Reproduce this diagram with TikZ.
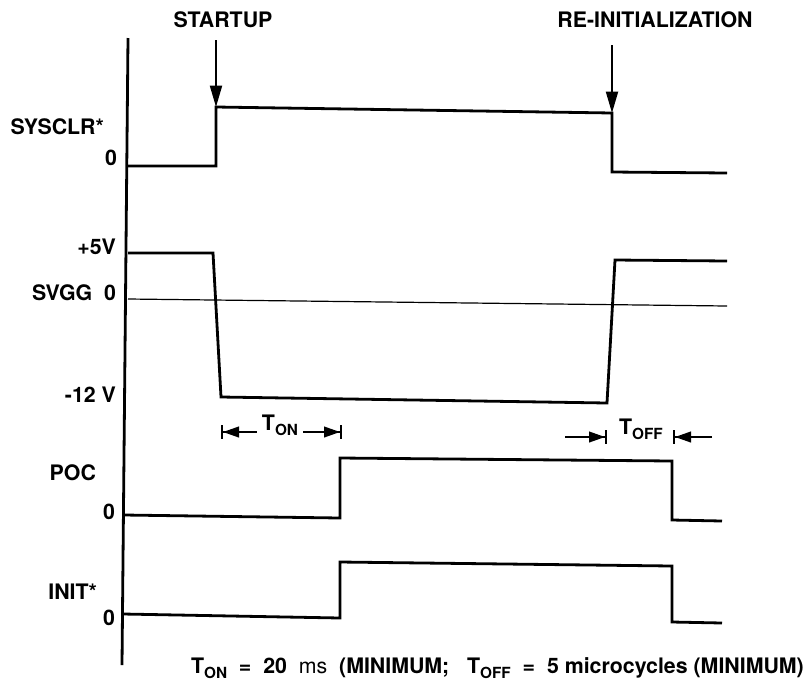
\documentclass[tikz,border=0pt]{standalone}
\usepackage{fontspec}
\setsansfont{TeX Gyre Heros}
\usetikzlibrary{arrows.meta}
\newcommand{\Tsub}[1]{T\raisebox{-0.45ex}{\fontsize{11.5}{12}\selectfont #1}}

\begin{document}
\begin{tikzpicture}[
  x=0.75pt, y=-0.75pt,
  line width=1.6pt,
  every node/.style={font=\sffamily\bfseries\fontsize{16}{18}\selectfont, inner sep=0pt},
  sig/.style={line width=2.1pt, line join=miter},
  ref/.style={line width=0.9pt},
  mark arrow/.style={line width=1.4pt, -{Triangle[length=16pt,width=9pt]}},
  dimline/.style={line width=1.5pt, -{Triangle[length=12pt,width=8pt] Bar[width=10pt]}}
]
\useasboundingbox (0,0) rectangle (803,683);

% time axis
\draw[sig] (128,38) -- (122,665);

% events
\node (startup) at (223,20) {STARTUP};
\node (reinit) at (655,20) {RE-INITIALIZATION};
\coordinate (startup top) at (216,40);
\coordinate (startup tip) at (216,107);
\coordinate (reinit top) at (612,45);
\coordinate (reinit tip) at (612,113);
\draw[mark arrow] (startup top) -- (startup tip);
\draw[mark arrow] (reinit top) -- (reinit tip);

% SYSCLR*
\node[anchor=east] (sysclr) at (105,127) {SYSCLR*};
\node[anchor=east] (sysclr0) at (118,158) {0};
\draw[sig] (128,166) -- (216,166) -- (startup tip) -- (reinit tip)
  -- (612,172) -- (727,173);

% SVGG
\node[anchor=east] (plus5) at (117,247) {+5V};
\node[anchor=east] (svgg) at (117,293) {SVGG\ \ 0};
\node[anchor=east] (minus12) at (117,395) {-12 V};
\draw[sig] (128,253) -- (213,253) -- (221,397) -- (607,403)
  -- (615,260) -- (727,261);
\draw[ref] (128,299) -- (727,306);

% T_ON / T_OFF
\node[anchor=base] (ton) at (280,430) {\Tsub{ON}};
\coordinate (ton l) at (221,432);
\coordinate (ton r) at (342,432);
\draw[dimline, shorten <=3pt] (ton.west |- ton l) -- (ton l);
\draw[dimline, shorten <=3pt] (ton.east |- ton r) -- (ton r);

\node[anchor=base] (toff) at (641,434) {\Tsub{OFF}};
\coordinate (toff a) at (565,437);
\coordinate (toff l) at (607,437);
\coordinate (toff r) at (673,437);
\coordinate (toff b) at (712,437);
\draw[dimline] (toff a) -- (toff l);
\draw[dimline] (toff b) -- (toff r);

% POC
\node[anchor=east] (poc) at (97,473) {POC};
\node[anchor=east] (poc0) at (116,512) {0};
\draw[sig] (124,515) -- (340,518) -- (340,458) -- (672,461)
  -- (672,520) -- (722,521);

% INIT*
\node[anchor=east] (init) at (98,592) {INIT*};
\node[anchor=east] (init0) at (116,618) {0};
\draw[sig] (123,614) -- (340,618) -- (340,562) -- (672,566)
  -- (672,622) -- (722,623);

% note
\node[anchor=base west] (note) at (190,673)
  {\Tsub{ON}\ \ =\ \ 20\ \ {\mdseries ms}\ \ (MINIMUM;\ \ \ \Tsub{OFF}\ \ =\ \ 5 microcycles (MINIMUM)};

\end{tikzpicture}
\end{document}
